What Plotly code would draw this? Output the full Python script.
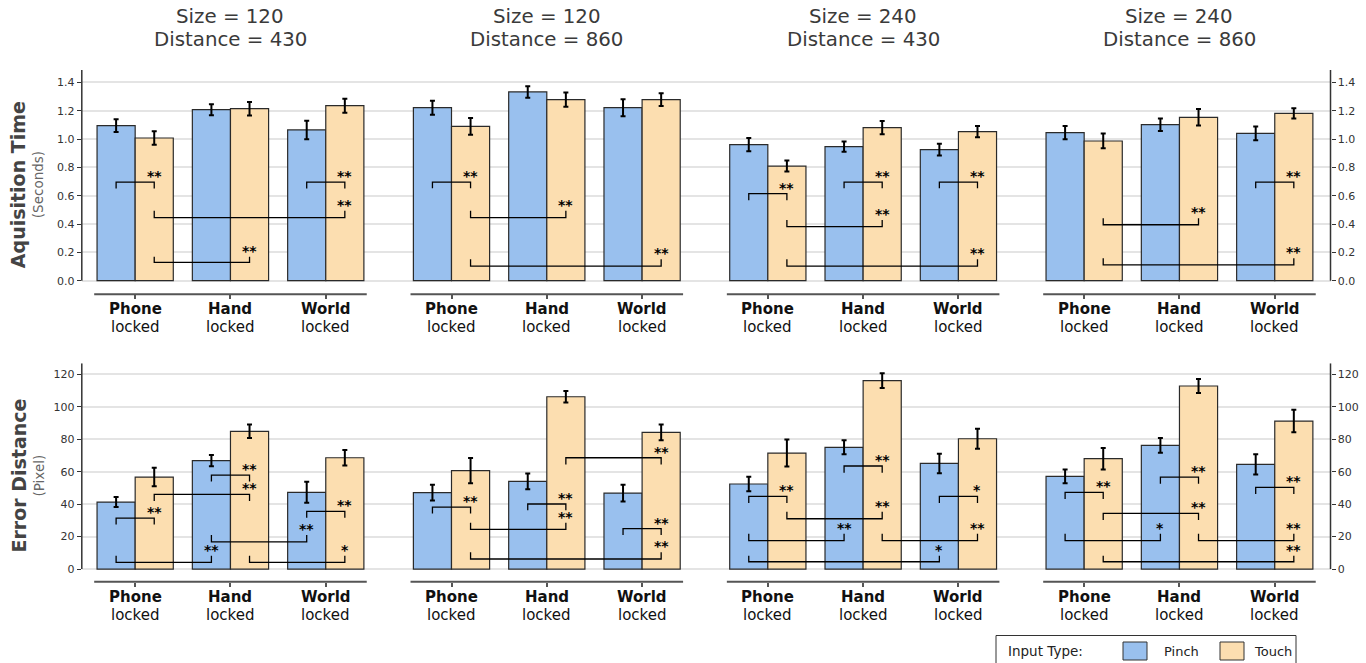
import plotly.graph_objects as go

# ---------------------------------------------------------------- data
input_types = ["Pinch", "Touch"]
categories = ["Phone", "Hand", "World"]
category_suffix = "locked"
sizes = ["120", "120", "240", "240"]
distances = ["430", "860", "430", "860"]

# acquisition time in seconds, per condition: [Phone, Hand, World]
time_pinch = [
    [1.094, 1.207, 1.064],
    [1.221, 1.332, 1.221],
    [0.960, 0.946, 0.925],
    [1.045, 1.101, 1.040],
]
time_pinch_err = [
    [0.045, 0.039, 0.065],
    [0.049, 0.041, 0.060],
    [0.047, 0.036, 0.041],
    [0.047, 0.044, 0.048],
]
time_touch = [
    [1.007, 1.214, 1.235],
    [1.089, 1.278, 1.278],
    [0.809, 1.080, 1.052],
    [0.986, 1.153, 1.181],
]
time_touch_err = [
    [0.047, 0.048, 0.049],
    [0.059, 0.051, 0.045],
    [0.039, 0.047, 0.039],
    [0.052, 0.058, 0.036],
]

# error distance in pixels, per condition: [Phone, Hand, World]
dist_pinch = [
    [41.3, 66.8, 47.3],
    [47.1, 54.0, 46.8],
    [52.4, 75.0, 65.1],
    [57.1, 76.2, 64.5],
]
dist_pinch_err = [
    [3.1, 3.5, 6.5],
    [4.9, 4.9, 5.2],
    [4.5, 4.3, 6.0],
    [4.3, 4.5, 6.2],
]
dist_touch = [
    [56.7, 84.9, 68.6],
    [60.6, 106.2, 84.2],
    [71.5, 116.1, 80.3],
    [68.0, 112.8, 91.2],
]
dist_touch_err = [
    [5.75, 4.2, 4.8],
    [7.8, 3.6, 4.9],
    [8.3, 4.5, 6.2],
    [6.6, 4.3, 6.9],
]

# significance brackets: (category a, input a, category b, input b, bar level, tip level, label)
time_brackets = [
    [(0, "P", 0, "T", 0.696, 0.650, "**"), (0, "T", 2, "T", 0.445, 0.494, "**"),
     (2, "P", 2, "T", 0.696, 0.650, "**"), (0, "T", 1, "T", 0.129, 0.169, "**")],
    [(0, "P", 0, "T", 0.696, 0.652, "**"), (0, "T", 1, "T", 0.445, 0.494, "**"),
     (0, "T", 2, "T", 0.1035, 0.151, "**")],
    [(0, "P", 0, "T", 0.614, 0.567, "**"), (1, "P", 1, "T", 0.696, 0.652, "**"),
     (2, "P", 2, "T", 0.696, 0.652, "**"), (0, "T", 1, "T", 0.381, 0.428, "**"),
     (0, "T", 2, "T", 0.1035, 0.151, "**")],
    [(2, "P", 2, "T", 0.696, 0.652, "**"), (0, "T", 1, "T", 0.395, 0.440, "**"),
     (0, "T", 2, "T", 0.111, 0.158, "**")],
]
dist_brackets = [
    [(0, "P", 0, "T", 31.4, 27.5, "**"), (0, "P", 1, "P", 4.1, 8.2, "**"),
     (1, "P", 1, "T", 57.9, 54.0, "**"), (0, "T", 1, "T", 46.0, 41.9, "**"),
     (1, "P", 2, "P", 16.8, 21.0, "**"), (2, "P", 2, "T", 35.5, 31.6, "**"),
     (1, "T", 2, "T", 4.1, 8.2, "*")],
    [(0, "P", 0, "T", 38.2, 34.3, "**"), (1, "P", 1, "T", 40.1, 36.2, "**"),
     (0, "T", 1, "T", 24.5, 28.6, "**"), (1, "T", 2, "T", 68.6, 64.5, "**"),
     (2, "P", 2, "T", 24.9, 21.0, "**"), (0, "T", 2, "T", 6.2, 10.3, "**")],
    [(0, "P", 0, "T", 44.8, 40.7, "**"), (1, "P", 1, "T", 63.5, 59.4, "**"),
     (0, "T", 1, "T", 31.0, 35.3, "**"), (0, "P", 1, "P", 17.5, 21.8, "**"),
     (2, "P", 2, "T", 44.8, 40.7, "*"), (1, "T", 2, "T", 17.5, 21.8, "**"),
     (0, "P", 2, "P", 4.5, 8.2, "*")],
    [(0, "P", 0, "T", 47.3, 43.1, "**"), (1, "P", 1, "T", 56.7, 52.6, "**"),
     (2, "P", 2, "T", 50.3, 46.2, "**"), (0, "T", 1, "T", 34.3, 30.2, "**"),
     (0, "P", 1, "P", 17.5, 21.8, "*"), (1, "T", 2, "T", 17.5, 21.8, "**"),
     (0, "T", 2, "T", 4.5, 8.2, "**")],
]

# ---------------------------------------------------------------- styling
W, H = 1366, 663
FONT = "DejaVu Sans"
PINCH_COLOR = "#99C0EE"
TOUCH_COLOR = "#FCDEB0"
BAR_EDGE = "#2a2a2a"
GRID = "#e4e4e4"
AXIS_DARK = "#333333"

BAR_GAP = 0.2
HALF = (1 - BAR_GAP) / 4           # centre offset of each bar within a group
OFFSET = {"P": -HALF, "T": HALF}

UNIT_PX = 95.3                     # pixels per category step
PANEL_LEFT = 81.8
PITCH = 316.33
X_LO = -0.56
X_HI_LAST = 2.585
ROW_PX = [(70.0, 294.3), (363.3, 581.7)]
Y_RANGES = [[-0.096, 1.487], [-7.8, 126.8]]
Y_DTICK = [0.2, 20]
Y_TICKFMT = [".1f", "d"]

rows = [
    dict(pinch=time_pinch, pinch_err=time_pinch_err, touch=time_touch,
         touch_err=time_touch_err, brackets=time_brackets,
         title="Aquisition Time", unit="(Seconds)"),
    dict(pinch=dist_pinch, pinch_err=dist_pinch_err, touch=dist_touch,
         touch_err=dist_touch_err, brackets=dist_brackets,
         title="Error Distance", unit="(Pixel)"),
]

fig = go.Figure()
layout = {}
annotations = []
shapes = []


def px_x(p):
    return p / W


def px_y(p):
    return 1 - p / H


for r, row in enumerate(rows):
    top_px, bot_px = ROW_PX[r]
    for c in range(4):
        n = r * 4 + c + 1
        suffix = "" if n == 1 else str(n)
        xa, ya = "x" + suffix, "y" + suffix

        left = PANEL_LEFT + c * PITCH
        if c < 3:
            right = left + PITCH
            x_hi = X_LO + PITCH / UNIT_PX
        else:
            x_hi = X_HI_LAST
            right = left + (X_HI_LAST - X_LO) * UNIT_PX

        layout["xaxis" + suffix] = dict(
            domain=[px_x(left), px_x(right)], range=[X_LO, x_hi], anchor=ya,
            tickmode="array", tickvals=[0, 1, 2], showticklabels=False,
            ticks="outside", ticklen=4, tickwidth=1.5, tickcolor="#555555",
            showgrid=False, zeroline=False, showline=False, fixedrange=True,
        )
        side = "right" if c == 3 else "left"
        show_labels = c in (0, 3)
        layout["yaxis" + suffix] = dict(
            domain=[px_y(bot_px), px_y(top_px)], range=Y_RANGES[r], anchor=xa,
            side=side, tick0=0, dtick=Y_DTICK[r], tickformat=Y_TICKFMT[r],
            showticklabels=show_labels, ticks="outside" if show_labels else "",
            ticklen=4, tickwidth=1.2, tickcolor=AXIS_DARK,
            tickfont=dict(family=FONT, size=11, color="#333333"),
            showgrid=True, gridcolor=GRID, gridwidth=1.5,
            zeroline=False, showline=False, fixedrange=True,
        )

        # bars
        for name, vals, errs, color in (
            ("Pinch", row["pinch"][c], row["pinch_err"][c], PINCH_COLOR),
            ("Touch", row["touch"][c], row["touch_err"][c], TOUCH_COLOR),
        ):
            fig.add_trace(go.Bar(
                x=[0, 1, 2], y=vals, name=name, xaxis=xa, yaxis=ya,
                offsetgroup=name, showlegend=False,
                marker=dict(color=color, line=dict(color=BAR_EDGE, width=1.2)),
                error_y=dict(type="data", array=errs, color="black",
                             thickness=2, width=2.5),
            ))

        # significance brackets
        bx, by = [], []
        for ca, ia, cb, ib, level, tip, label in row["brackets"][c]:
            x1 = ca + OFFSET[ia]
            x2 = cb + OFFSET[ib]
            bx += [x1, x1, x2, x2, None]
            by += [tip, level, level, tip, None]
            annotations.append(dict(
                x=x2, y=max(level, tip), xref=xa, yref=ya, text="<b>%s</b>" % label,
                showarrow=False, xanchor="center", yanchor="middle", yshift=6,
                font=dict(family=FONT, size=14, color="black"),
            ))
        fig.add_trace(go.Scatter(
            x=bx, y=by, xaxis=xa, yaxis=ya, mode="lines", showlegend=False,
            line=dict(color="black", width=1.3), hoverinfo="skip",
        ))

        # category labels under each group
        for k, cat in enumerate(categories):
            annotations.append(dict(
                x=k, y=px_y(bot_px + 15), xref=xa, yref="paper", text="<b>%s</b>" % cat,
                showarrow=False, xanchor="center", yanchor="middle",
                font=dict(family=FONT, size=15, color="#111111"),
            ))
            annotations.append(dict(
                x=k, y=px_y(bot_px + 33), xref=xa, yref="paper", text=category_suffix,
                showarrow=False, xanchor="center", yanchor="middle",
                font=dict(family=FONT, size=15, color="#111111"),
            ))

        # capped x axis line
        shapes.append(dict(
            type="line", xref=xa, yref=ya + " domain", x0=-0.43, x1=2.43, y0=0, y1=0,
            line=dict(color="#555555", width=2),
        ))
        # y axis line from zero up to the top of the panel
        if show_labels:
            edge = 1 if c == 3 else 0
            shapes.append(dict(
                type="line", xref=xa + " domain", yref=ya, x0=edge, x1=edge,
                y0=0, y1=Y_RANGES[r][1], line=dict(color=AXIS_DARK, width=1.5),
            ))

        # column headings
        if r == 0:
            annotations.append(dict(
                x=1, y=px_y(16), xref=xa, yref="paper", text="Size = " + sizes[c],
                showarrow=False, xanchor="center", yanchor="middle",
                font=dict(family=FONT, size=19.8, color="#3a3a3a"),
            ))
            annotations.append(dict(
                x=1, y=px_y(39), xref=xa, yref="paper", text="Distance = " + distances[c],
                showarrow=False, xanchor="center", yanchor="middle",
                font=dict(family=FONT, size=19.8, color="#3a3a3a"),
            ))

    # row titles
    mid = (ROW_PX[r][0] + ROW_PX[r][1]) / 2 + 3
    annotations.append(dict(
        x=px_x(18), y=px_y(mid), xref="paper", yref="paper", text="<b>%s</b>" % row["title"],
        textangle=-90, showarrow=False, xanchor="center", yanchor="middle",
        font=dict(family=FONT, size=19, color="#444444"),
    ))
    annotations.append(dict(
        x=px_x(38), y=px_y(mid), xref="paper", yref="paper", text=row["unit"],
        textangle=-90, showarrow=False, xanchor="center", yanchor="middle",
        font=dict(family=FONT, size=13.5, color="#666666"),
    ))

# legend box
shapes.append(dict(type="rect", xref="paper", yref="paper",
                   x0=px_x(996), x1=px_x(1296), y0=px_y(675), y1=px_y(635.5),
                   line=dict(color="#333333", width=1), fillcolor="white"))
legend_items = [(input_types[0], PINCH_COLOR, 1123, 1162), (input_types[1], TOUCH_COLOR, 1220, 1252)]
for label, color, sx, tx in legend_items:
    shapes.append(dict(type="rect", xref="paper", yref="paper",
                       x0=px_x(sx), x1=px_x(sx + 24), y0=px_y(660), y1=px_y(642),
                       line=dict(color="#333333", width=1), fillcolor=color))
    annotations.append(dict(
        x=px_x(tx), y=px_y(651), xref="paper", yref="paper", text=label,
        showarrow=False, xanchor="left", yanchor="middle",
        font=dict(family=FONT, size=13, color="#222222"),
    ))
annotations.append(dict(
    x=px_x(1006), y=px_y(651), xref="paper", yref="paper", text="Input Type:",
    showarrow=False, xanchor="left", yanchor="middle",
    font=dict(family=FONT, size=13.5, color="#222222"),
))

fig.update_layout(
    width=W, height=H, margin=dict(l=0, r=0, t=0, b=0, pad=0),
    paper_bgcolor="white", plot_bgcolor="white",
    barmode="group", bargap=BAR_GAP, bargroupgap=0,
    showlegend=False, font=dict(family=FONT),
    annotations=annotations, shapes=shapes, **layout,
)

fig.write_html("out.html")
